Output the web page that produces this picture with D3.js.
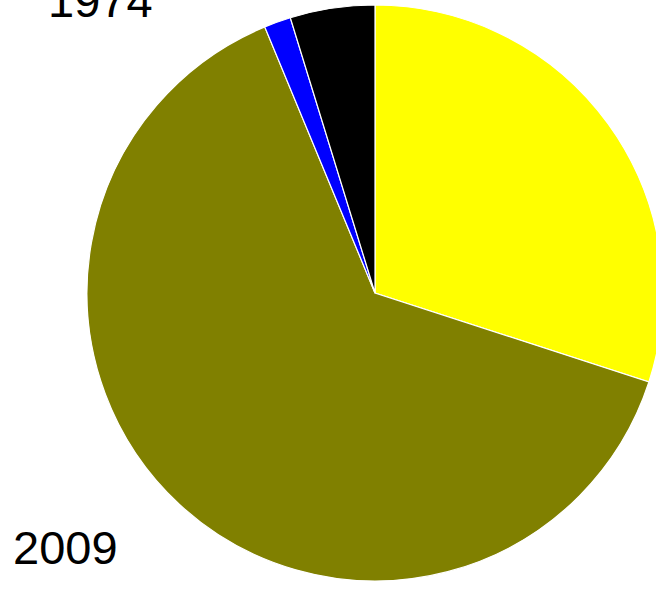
<!DOCTYPE html>
<html>
<head>
<meta charset="utf-8">
<style>
  body { margin: 0; background: #fff; }
  .lbl { font-family: "Liberation Sans", Arial, sans-serif; font-size: 47px; fill: #000; }
</style>
</head>
<body>
<svg id="chart" width="656" height="590"></svg>
<script src="https://d3js.org/d3.v7.min.js"></script>
<script>
// slice data, clockwise from 12 o'clock
var names = ["A", "B", "C", "D"];
var values = [30, 63.75, 1.5, 4.75];
var colors = ["#ffff00", "#808000", "#0000ff", "#000000"];
var labels = ["1974", "2009"];

var svg = d3.select("#chart"),
    cx = 375, cy = 293, r = 288;

var pie = d3.pie().sort(null).value(function(d, i) { return values[i]; });
var arc = d3.arc().innerRadius(0).outerRadius(r);

var g = svg.append("g").attr("transform", "translate(" + cx + "," + cy + ")");

g.selectAll("path")
  .data(pie(names))
  .enter().append("path")
  .attr("d", arc)
  .attr("fill", function(d, i) { return colors[i]; })
  .attr("stroke", "#fff")
  .attr("stroke-width", 1.2);

// year labels
svg.append("text").attr("class", "lbl").attr("x", 48).attr("y", 17).text(labels[0]);
svg.append("text").attr("class", "lbl").attr("x", 13).attr("y", 564).text(labels[1]);
</script>
</body>
</html>
